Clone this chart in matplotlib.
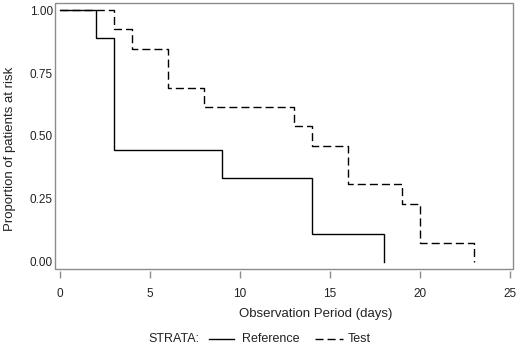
import matplotlib
matplotlib.use("Agg")
import matplotlib.pyplot as plt
from matplotlib.patches import Rectangle
from matplotlib.lines import Line2D

plt.rcParams['font.family'] = ['Liberation Sans', 'DejaVu Sans']

# Kaplan-Meier step data
ref_times = [0, 2, 3, 9, 14, 18]
ref_surv = [1.0, 0.889, 0.444, 0.333, 0.111, 0.0]

test_times = [0, 3, 4, 6, 8, 13, 14, 16, 19, 20, 23]
test_surv = [1.0, 0.923, 0.846, 0.692, 0.615, 0.538, 0.462, 0.308, 0.231, 0.077, 0.0]

x_ticks = [0, 5, 10, 15, 20, 25]
y_ticks = [0.0, 0.25, 0.5, 0.75, 1.0]
y_ticklabels = ["0.00", "0.25", "0.50", "0.75", "1.00"]

W, H = 520, 348
fig = plt.figure(figsize=(W / 100, H / 100), dpi=100)
l, t, r, b = 55, 3, 513, 269
ax = fig.add_axes([l / W, 1 - b / H, (r - l) / W, (b - t) / H])

def step_xy(times, surv):
    xs, ys = [], []
    for i in range(len(times)):
        if i > 0:
            xs.append(times[i]); ys.append(surv[i - 1])
        xs.append(times[i]); ys.append(surv[i])
    return xs, ys

rx, ry = step_xy(ref_times, ref_surv)
tx, ty = step_xy(test_times, test_surv)
ax.plot(rx, ry, color='black', lw=1.0, solid_joinstyle='miter')
ax.plot(tx, ty, color='black', lw=1.0, linestyle=(0, (5.8, 2.9)))

ax.set_xlim(-0.28, 25.17)
ax.set_ylim(-0.028, 1.028)

for s in ax.spines.values():
    s.set_visible(False)
ax.add_patch(Rectangle((0, 0), 1, 1, transform=ax.transAxes, fill=False,
                       edgecolor='#8c8c8c', lw=1.0, clip_on=False))
ax.spines['bottom'].set_position(('outward', 1.5))

ax.set_xticks(x_ticks)
ax.set_xticklabels([str(v) for v in x_ticks])
ax.set_yticks(y_ticks)
ax.set_yticklabels(y_ticklabels)
ax.tick_params(axis='x', length=5, width=1.0, color='#8c8c8c', pad=7,
               labelsize=8.5, labelcolor='#222222')
ax.tick_params(axis='y', length=0, pad=1.5, labelsize=8.5, labelcolor='#222222')

ax.set_xlabel("Observation Period (days)", fontsize=9.5, color='#222222')
ax.set_ylabel("Proportion of patients at risk", fontsize=9.5, color='#222222')
ax.xaxis.set_label_coords((316 - l) / (r - l), -(314 - b) / (b - t), transform=ax.transAxes)
ax.xaxis.label.set_va('center')
ax.yaxis.set_label_coords(-(l - 10) / (r - l), (b - 148.5) / (b - t), transform=ax.transAxes)
ax.yaxis.label.set_va('center')

# legend row
yl = 1 - 339 / H
fig.text(148 / W, yl, "STRATA:", fontsize=9, va='center', ha='left', color='#222222')
fig.add_artist(Line2D([209 / W, 234 / W], [yl, yl], color='black', lw=1.0,
                      transform=fig.transFigure))
fig.text(242 / W, yl, "Reference", fontsize=9, va='center', ha='left', color='#222222')
fig.add_artist(Line2D([315 / W, 343 / W], [yl, yl], color='black', lw=1.0,
                      linestyle=(0, (5.8, 2.9)), transform=fig.transFigure))
fig.text(348 / W, yl, "Test", fontsize=9, va='center', ha='left', color='#222222')

fig.savefig("out.png", dpi=100)
